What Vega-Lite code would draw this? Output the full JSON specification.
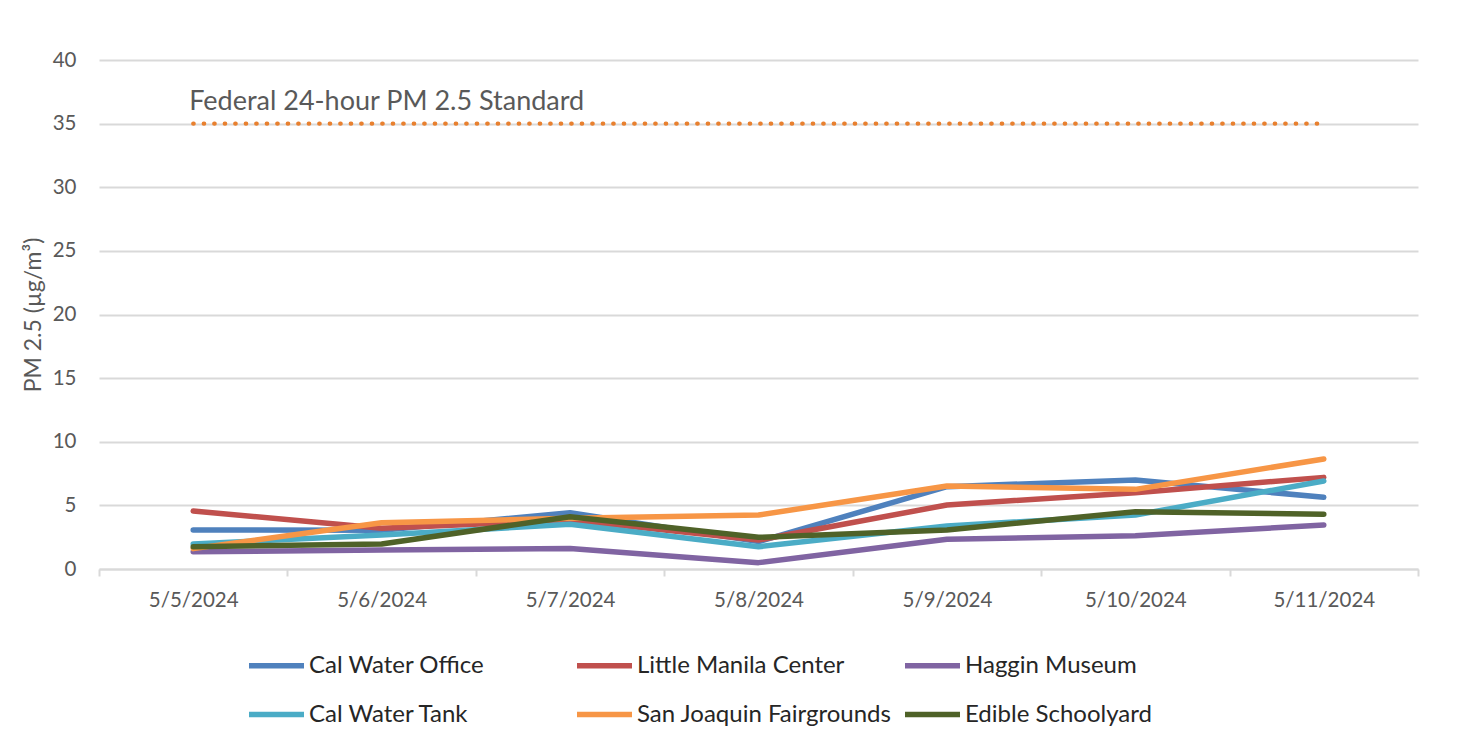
{
  "$schema": "https://vega.github.io/schema/vega-lite/v6.json",
  "autosize": {"type": "none"},
  "width": 1319,
  "height": 509,
  "padding": {"left": 99, "top": 60, "right": 45, "bottom": 177},
  "background": "white",
  "config": {
    "view": {"stroke": null},
    "font": "Lato",
    "axis": {"labelFont": "Lato", "titleFont": "Lato", "labelColor": "#595959", "titleColor": "#595959", "labelFontSize": 20.5, "titleFontSize": 23, "titleFontWeight": "normal"},
    "legend": {"labelFont": "Lato", "labelFontSize": 24, "labelColor": "#262626"}
  },
  "datasets": {
    "pm": [
      {"date": "5/5/2024", "site": "Cal Water Office", "pm25": 3.07},
      {"date": "5/6/2024", "site": "Cal Water Office", "pm25": 3.05},
      {"date": "5/7/2024", "site": "Cal Water Office", "pm25": 4.43},
      {"date": "5/8/2024", "site": "Cal Water Office", "pm25": 2.15},
      {"date": "5/9/2024", "site": "Cal Water Office", "pm25": 6.47},
      {"date": "5/10/2024", "site": "Cal Water Office", "pm25": 7.0},
      {"date": "5/11/2024", "site": "Cal Water Office", "pm25": 5.63},
      {"date": "5/5/2024", "site": "Little Manila Center", "pm25": 4.56},
      {"date": "5/6/2024", "site": "Little Manila Center", "pm25": 3.2},
      {"date": "5/7/2024", "site": "Little Manila Center", "pm25": 3.85},
      {"date": "5/8/2024", "site": "Little Manila Center", "pm25": 2.28},
      {"date": "5/9/2024", "site": "Little Manila Center", "pm25": 5.03},
      {"date": "5/10/2024", "site": "Little Manila Center", "pm25": 6.0},
      {"date": "5/11/2024", "site": "Little Manila Center", "pm25": 7.2},
      {"date": "5/5/2024", "site": "Haggin Museum", "pm25": 1.36},
      {"date": "5/6/2024", "site": "Haggin Museum", "pm25": 1.49},
      {"date": "5/7/2024", "site": "Haggin Museum", "pm25": 1.62},
      {"date": "5/8/2024", "site": "Haggin Museum", "pm25": 0.5},
      {"date": "5/9/2024", "site": "Haggin Museum", "pm25": 2.33},
      {"date": "5/10/2024", "site": "Haggin Museum", "pm25": 2.62},
      {"date": "5/11/2024", "site": "Haggin Museum", "pm25": 3.46},
      {"date": "5/5/2024", "site": "Cal Water Tank", "pm25": 1.97},
      {"date": "5/6/2024", "site": "Cal Water Tank", "pm25": 2.67},
      {"date": "5/7/2024", "site": "Cal Water Tank", "pm25": 3.51},
      {"date": "5/8/2024", "site": "Cal Water Tank", "pm25": 1.75},
      {"date": "5/9/2024", "site": "Cal Water Tank", "pm25": 3.38},
      {"date": "5/10/2024", "site": "Cal Water Tank", "pm25": 4.24},
      {"date": "5/11/2024", "site": "Cal Water Tank", "pm25": 6.92},
      {"date": "5/5/2024", "site": "San Joaquin Fairgrounds", "pm25": 1.6},
      {"date": "5/6/2024", "site": "San Joaquin Fairgrounds", "pm25": 3.64},
      {"date": "5/7/2024", "site": "San Joaquin Fairgrounds", "pm25": 3.98},
      {"date": "5/8/2024", "site": "San Joaquin Fairgrounds", "pm25": 4.24},
      {"date": "5/9/2024", "site": "San Joaquin Fairgrounds", "pm25": 6.52},
      {"date": "5/10/2024", "site": "San Joaquin Fairgrounds", "pm25": 6.26},
      {"date": "5/11/2024", "site": "San Joaquin Fairgrounds", "pm25": 8.65},
      {"date": "5/5/2024", "site": "Edible Schoolyard", "pm25": 1.75},
      {"date": "5/6/2024", "site": "Edible Schoolyard", "pm25": 1.97},
      {"date": "5/7/2024", "site": "Edible Schoolyard", "pm25": 4.11},
      {"date": "5/8/2024", "site": "Edible Schoolyard", "pm25": 2.49},
      {"date": "5/9/2024", "site": "Edible Schoolyard", "pm25": 3.07},
      {"date": "5/10/2024", "site": "Edible Schoolyard", "pm25": 4.5},
      {"date": "5/11/2024", "site": "Edible Schoolyard", "pm25": 4.3}
    ],
    "standard": [
      {"date": "5/5/2024", "pm25": 35},
      {"date": "5/6/2024", "pm25": 35},
      {"date": "5/7/2024", "pm25": 35},
      {"date": "5/8/2024", "pm25": 35},
      {"date": "5/9/2024", "pm25": 35},
      {"date": "5/10/2024", "pm25": 35},
      {"date": "5/11/2024", "pm25": 35}
    ],
    "note": [
      {"date": "5/5/2024", "pm25": 36.7, "label": "Federal 24-hour PM 2.5 Standard"}
    ]
  },
  "encoding": {
    "x": {
      "field": "date", "type": "nominal", "bandPosition": 0.5,
      "sort": ["5/5/2024", "5/6/2024", "5/7/2024", "5/8/2024", "5/9/2024", "5/10/2024", "5/11/2024"],
      "scale": {"type": "band", "paddingInner": 0, "paddingOuter": 0},
      "axis": {"title": null, "labelAngle": 0, "grid": false, "tickBand": "extent", "domainColor": "#D9D9D9", "domainWidth": 2, "tickColor": "#D9D9D9", "tickWidth": 2, "tickSize": 7, "labelPadding": 14}
    },
    "y": {
      "field": "pm25", "type": "quantitative",
      "scale": {"domain": [0, 40], "nice": false},
      "axis": {"title": "PM 2.5 (µg/m³)", "values": [0, 5, 10, 15, 20, 25, 30, 35, 40], "domain": false, "ticks": false, "grid": true, "gridColor": "#D9D9D9", "gridWidth": 2, "labelPadding": 23, "titleX": -66, "titleBaseline": "middle"}
    }
  },
  "layer": [
    {
      "data": {"name": "pm"},
      "mark": {"type": "line", "strokeWidth": 5.5, "strokeCap": "round", "strokeJoin": "round"},
      "encoding": {
        "color": {
          "field": "site", "type": "nominal",
          "scale": {
            "domain": ["Cal Water Office", "Little Manila Center", "Haggin Museum", "Cal Water Tank", "San Joaquin Fairgrounds", "Edible Schoolyard"],
            "range": ["#4F81BD", "#C0504D", "#8064A2", "#4BACC6", "#F79646", "#4F6228"]
          },
          "legend": {
            "title": null, "orient": "none", "legendX": 147, "legendY": 575,
            "direction": "horizontal", "columns": 3, "gridAlign": "all",
            "symbolType": "stroke", "symbolSize": 3025, "symbolStrokeWidth": 5.5,
            "labelOffset": 2, "columnPadding": 2, "rowPadding": 6, "labelLimit": 400
          }
        }
      }
    },
    {
      "data": {"name": "standard"},
      "mark": {"type": "line", "color": "#E8802F", "strokeWidth": 4.2, "strokeCap": "round", "strokeDash": [0.5, 10]},
      "encoding": {}
    },
    {
      "data": {"name": "note"},
      "mark": {"type": "text", "align": "left", "baseline": "middle", "dx": -4, "fontSize": 27, "color": "#595959", "font": "Lato"},
      "encoding": {"text": {"field": "label"}}
    }
  ]
}
